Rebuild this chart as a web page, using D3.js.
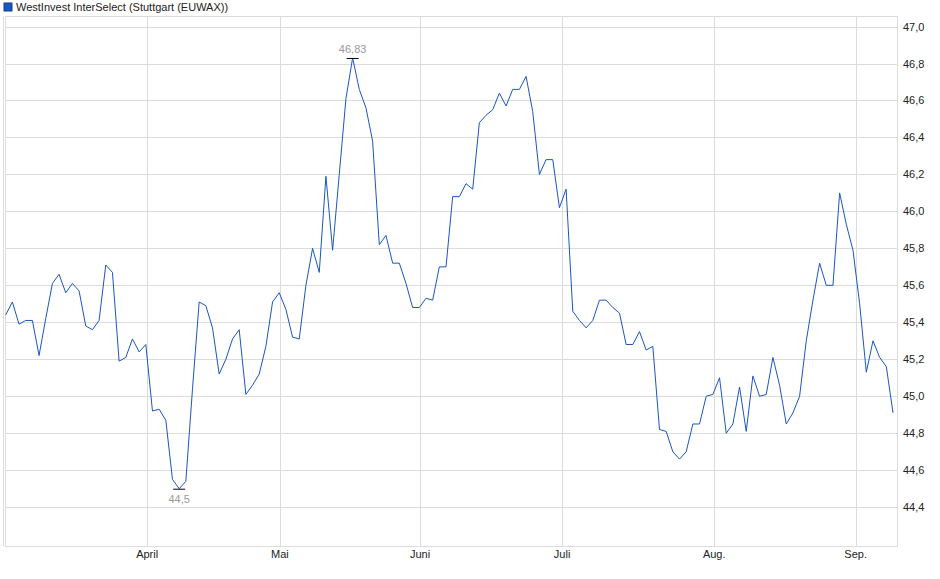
<!DOCTYPE html>
<html><head><meta charset="utf-8">
<script src="https://cdn.jsdelivr.net/npm/d3@7"></script>
<style>body{margin:0;background:#fff}svg{font-family:"Liberation Sans",Arial,sans-serif}</style>
</head><body><svg id="c" width="940" height="579"></svg>
<script>
const title = "WestInvest InterSelect (Stuttgart (EUWAX))";
const values = [
45.44,45.51,45.39,45.41,45.41,45.22,45.42,45.61,45.66,45.56,45.61,45.57,45.38,45.36,45.41,45.71,45.67,45.19,45.21,45.31,45.24,45.28,44.92,44.93,44.87,44.55,44.50,44.54,45.04,45.51,45.49,45.37,45.12,45.20,45.31,45.36,45.01,45.06,45.12,45.27,45.51,45.56,45.47,45.32,45.31,45.60,45.80,
45.67,46.19,45.79,46.20,46.61,46.83,46.66,46.56,46.38,45.82,45.87,45.72,45.72,45.61,45.48,45.48,45.53,45.52,45.70,45.70,46.08,46.08,46.15,46.12,46.48,46.52,46.55,46.64,46.57,46.66,46.66,46.73,46.54,46.20,46.28,46.28,46.02,46.12,45.46,45.41,45.37,45.41,45.52,45.52,45.48,
45.45,45.28,45.28,45.35,45.25,45.27,44.82,44.81,44.70,44.66,44.70,44.85,44.85,45.00,45.01,45.10,44.80,44.85,45.05,44.81,45.11,45.00,45.01,45.21,45.06,44.85,44.91,45.00,45.30,45.52,45.72,45.60,45.60,46.10,45.93,45.79,45.50,45.13,45.30,45.21,45.16,44.91];
const monthLabels = ["April","Mai","Juni","Juli","Aug.","Sep."];
const monthIdx = [21.2,41.1,62.1,83.4,106.2,127.4];
const yTicks = [44.4,44.6,44.8,45.0,45.2,45.4,45.6,45.8,46.0,46.2,46.4,46.6,46.8,47.0];

const svg = d3.select("#c");
const L=5,R=897,T=16,B=546;
const x = d3.scaleLinear().domain([0,133]).range([5.7,893]);
const y = d3.scaleLinear().domain([44.19,47.057]).range([B,T]);
const fmt = v => d3.format(".1f")(v).replace(".",",");

const g = svg.append("g");
g.selectAll(".hy").data(yTicks).join("line").attr("x1",L).attr("x2",R)
 .attr("y1",d=>Math.round(y(d))+0.5).attr("y2",d=>Math.round(y(d))+0.5).attr("stroke","#dcdcdc");
g.selectAll(".vx").data(monthIdx).join("line").attr("y1",T).attr("y2",B)
 .attr("x1",d=>Math.round(x(d))+0.5).attr("x2",d=>Math.round(x(d))+0.5).attr("stroke","#dcdcdc");
g.append("rect").attr("x",L+0.5).attr("y",T+0.5).attr("width",R-L).attr("height",B-T).attr("fill","none").attr("stroke","#dcdcdc");
g.append("line").attr("x1",3.5).attr("x2",3.5).attr("y1",T).attr("y2",B).attr("stroke","#dcdcdc");

g.selectAll(".yl").data(yTicks).join("text").attr("x",903).attr("y",d=>y(d)+4)
 .attr("font-size",11).attr("fill","#222").text(fmt);
g.selectAll(".ml").data(monthIdx).join("text").attr("x",d=>x(d)).attr("y",558)
 .attr("text-anchor","middle").attr("font-size",11).attr("fill","#222").text((d,i)=>monthLabels[i]);

svg.append("path").datum(values).attr("fill","none").attr("stroke","#1a56c0").attr("stroke-width",1)
 .attr("d",d3.line().x((d,i)=>x(i)).y(d=>y(d)));

const maxI = values.indexOf(d3.max(values)), minI = values.indexOf(d3.min(values));
[[maxI,-1],[minI,1]].forEach(([i,s])=>{
  const px=x(i), py=y(values[i]);
  svg.append("line").attr("x1",px-6).attr("x2",px+6).attr("y1",py+0.5).attr("y2",py+0.5).attr("stroke","#000");
  svg.append("text").attr("x",px).attr("y",s<0?py-5:py+14).attr("text-anchor","middle")
   .attr("font-size",11).attr("fill","#999").text(String(values[i]).replace(".",","));
});

svg.append("rect").attr("x",4).attr("y",3).attr("width",8).attr("height",8).attr("fill","#1a56c0").attr("stroke","#123c88");
svg.append("text").attr("x",16).attr("y",11).attr("font-size",11).attr("fill","#222").text(title);
</script></body></html>
